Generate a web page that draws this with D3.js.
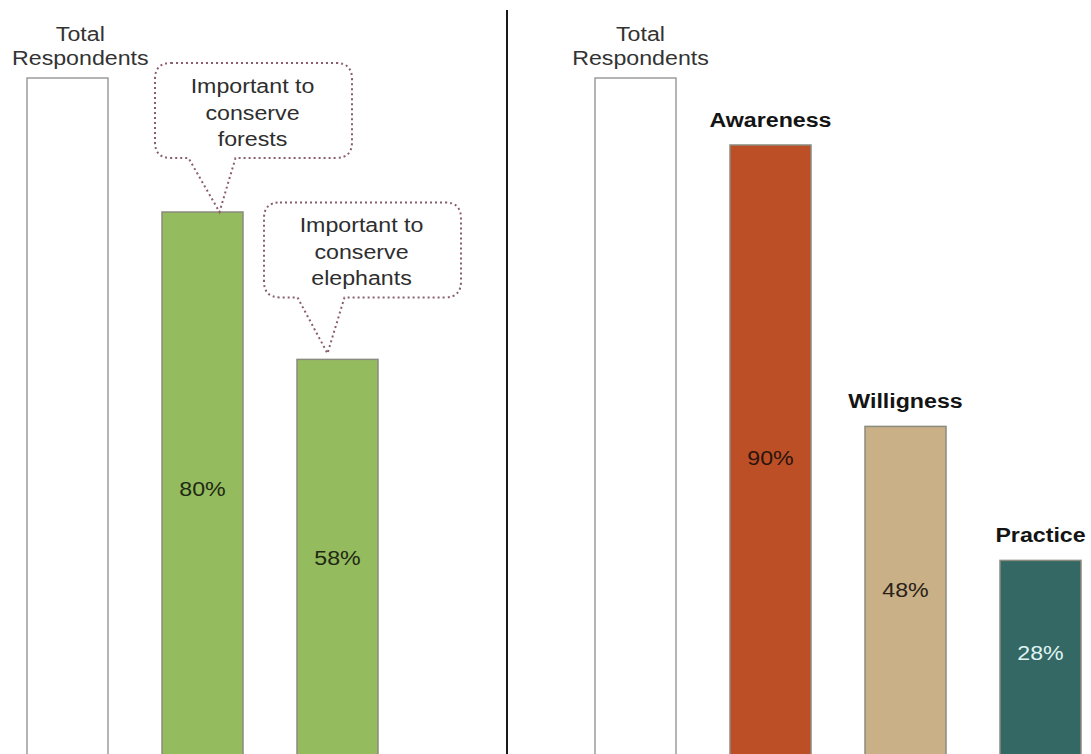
<!DOCTYPE html>
<html>
<head>
<meta charset="utf-8">
<script src="https://cdn.jsdelivr.net/npm/d3@7"></script>
<style>
  html, body { margin: 0; padding: 0; background: #fff; overflow: hidden; }
  text { font-family: "Liberation Sans", Arial, Helvetica, sans-serif; }
</style>
</head>
<body>
<svg id="chart" width="1091" height="754"></svg>
<script>
// ---- data ----
const attitudeCategories = ["Total Respondents", "Important to conserve forests", "Important to conserve elephants"];
const attitudeValues = [100, 80, 58];
const attitudeCallouts = [null, ["Important to", "conserve", "forests"], ["Important to", "conserve", "elephants"]];

const behaviourCategories = ["Total Respondents", "Awareness", "Willigness", "Practice"];
const behaviourValues = [100, 90, 48, 28];

const totalLabelLines = ["Total", "Respondents"];

// ---- styles ----
const attitudeColors = ["#ffffff", "#94bb5e", "#94bb5e"];
const behaviourColors = ["#ffffff", "#bd4f27", "#c9b087", "#346865"];
const valueTextColors = { "#94bb5e": "#1f2a14", "#bd4f27": "#2a140c", "#c9b087": "#2a2218", "#346865": "#dff3f2" };
const TEXT_STRETCH = 1.16;
const FONT_SIZE = 20;

const W = 1091, H = 754;
const svg = d3.select("#chart");

const y = d3.scaleLinear().domain([0, 100]).range([748, 78]);

const xLeft = d3.scaleBand().domain(attitudeCategories)
  .range([27, 378]).paddingInner(0.4).paddingOuter(0);
const xRight = d3.scaleBand().domain(behaviourCategories)
  .range([595, 1081]).paddingInner(0.4).paddingOuter(0);

// text drawn slightly widened horizontally
function stretchedText(g, x, yy, str, opts = {}) {
  const t = g.append("text")
    .attr("transform", `translate(${x},${yy}) scale(${TEXT_STRETCH},1)`)
    .attr("text-anchor", opts.anchor || "middle")
    .attr("font-size", opts.size || FONT_SIZE)
    .attr("font-weight", opts.weight || "normal")
    .attr("fill", opts.fill || "#333")
    .text(str);
  return t;
}

// speech-bubble outline: rounded box with a tail pointing down to (tipX, tipY)
function calloutPath(cx, bottom, w, h, r, baseL, baseR, tipX, tipY) {
  const x0 = cx - w / 2, x1 = cx + w / 2, y0 = bottom - h, y1 = bottom;
  const p = d3.path();
  p.moveTo(x0 + r, y0);
  p.lineTo(x1 - r, y0);
  p.quadraticCurveTo(x1, y0, x1, y0 + r);
  p.lineTo(x1, y1 - r);
  p.quadraticCurveTo(x1, y1, x1 - r, y1);
  p.lineTo(baseR, y1);
  p.lineTo(tipX, tipY);
  p.lineTo(baseL, y1);
  p.lineTo(x0 + r, y1);
  p.quadraticCurveTo(x0, y1, x0, y1 - r);
  p.lineTo(x0, y0 + r);
  p.quadraticCurveTo(x0, y0, x0 + r, y0);
  p.closePath();
  return p.toString();
}

function drawPanel(categories, values, colors, x, opts) {
  const g = svg.append("g");
  const bw = x.bandwidth();

  g.selectAll("rect.bar")
    .data(categories)
    .join("rect")
    .attr("class", "bar")
    .attr("x", d => x(d))
    .attr("y", (d, i) => y(values[i]))
    .attr("width", bw)
    .attr("height", (d, i) => H + 10 - y(values[i]))
    .attr("fill", (d, i) => colors[i])
    .attr("stroke", (d, i) => i === 0 ? "#9c9c9c" : "#8b8a7f")
    .attr("stroke-width", 1.5);

  categories.forEach((c, i) => {
    const cx = x(c) + bw / 2;
    const top = y(values[i]);
    if (i === 0) {
      // two-line header above the total bar
      const lg = g.append("g");
      const lines = totalLabelLines.map((s, k) =>
        stretchedText(lg, cx + 5, top - 13 - (totalLabelLines.length - 1 - k) * 24, s, { fill: "#333" }));
      const wMax = d3.max(lines, t => t.node().getComputedTextLength() * TEXT_STRETCH);
      const left = cx + 5 - wMax / 2;
      if (left < 12) lg.attr("transform", `translate(${12 - left},0)`);
      return;
    }
    // value label inside the bar
    const base = y(0);
    stretchedText(g, cx, top + (base - top) * 0.53, values[i] + "%", {
      fill: valueTextColors[colors[i]] || "#222"
    });
    if (opts.boldNames) {
      stretchedText(g, cx, top - 18, c, { weight: "bold", fill: "#141414" });
    }
    if (opts.callouts && opts.callouts[i]) {
      const lay = opts.calloutLayout[i];
      const boxCx = cx + lay.dx;
      const bottom = top - lay.gap;
      g.append("path")
        .attr("d", calloutPath(boxCx, bottom, 197, 95, 16,
          boxCx - 65, boxCx - 18, cx + lay.tipDx, top - lay.tipGap))
        .attr("fill", "none")
        .attr("stroke", "#8a5e6e")
        .attr("stroke-width", 2)
        .attr("stroke-dasharray", "2,3");
      const textLines = opts.callouts[i];
      textLines.forEach((s, k) => {
        stretchedText(g, boxCx - 1, bottom - 65 + k * 26.5, s, { fill: "#2e2e2e" });
      });
    }
  });
  return g;
}

drawPanel(attitudeCategories, attitudeValues, attitudeColors, xLeft, {
  callouts: attitudeCallouts,
  calloutLayout: [null, { dx: 51, gap: 54, tipDx: 17, tipGap: 0 }, { dx: 25, gap: 62, tipDx: -10, tipGap: 6 }]
});
drawPanel(behaviourCategories, behaviourValues, behaviourColors, xRight, { boldNames: true });

// divider between the two panels
svg.append("line")
  .attr("x1", 507).attr("x2", 507)
  .attr("y1", 10).attr("y2", H)
  .attr("stroke", "#1a1a1a")
  .attr("stroke-width", 2);
</script>
</body>
</html>
